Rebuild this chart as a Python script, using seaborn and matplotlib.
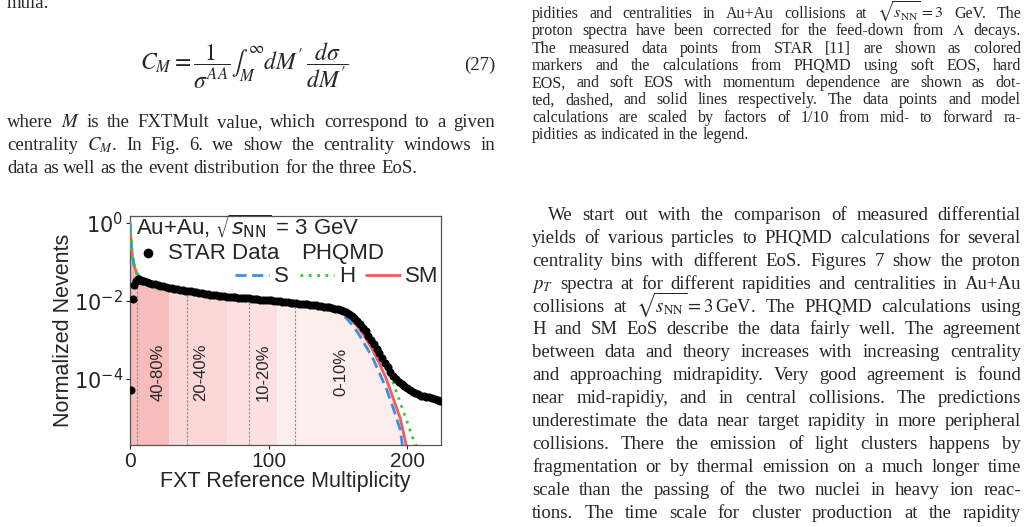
import numpy as np
import matplotlib
matplotlib.use("Agg")
import matplotlib.pyplot as plt
import seaborn as sns
import pandas as pd

sns.set_theme(style="ticks")
plt.rcParams['font.family'] = ['Liberation Sans', 'DejaVu Sans']
plt.rcParams['mathtext.fontset'] = 'dejavusans'

# ---------------- data ----------------
star_x = [1, 2, 3, 4, 5, 6, 7, 8, 9, 10] + list(range(12, 225, 2))
star_log = [-4.3, -1.95, -1.6, -1.5, -1.46, -1.45, -1.46, -1.47, -1.48, -1.5,
            -1.52, -1.54, -1.56, -1.58, -1.60, -1.62, -1.63, -1.65, -1.66, -1.68, -1.69, -1.70, -1.72, -1.73, -1.74,
            -1.75, -1.76, -1.77, -1.78, -1.80, -1.81, -1.82, -1.83, -1.84, -1.85, -1.86, -1.87, -1.88, -1.88, -1.89, -1.90, -1.91, -1.91, -1.92, -1.92,
            -1.93, -1.94, -1.94, -1.95, -1.95, -1.96, -1.97, -1.97, -1.98, -1.98, -1.99, -2.00, -2.01, -2.01, -2.02, -2.03, -2.04, -2.05, -2.05, -2.06,
            -2.07, -2.08, -2.09, -2.09, -2.10, -2.11, -2.12, -2.13, -2.14, -2.15, -2.16, -2.17, -2.19, -2.20, -2.22, -2.24, -2.26, -2.29, -2.33, -2.38,
            -2.44, -2.51, -2.60, -2.69, -2.78, -2.89, -3.00, -3.11, -3.23, -3.35, -3.47, -3.59, -3.71, -3.82, -3.92, -4.00, -4.07, -4.13, -4.19, -4.24,
            -4.29, -4.33, -4.37, -4.40, -4.43, -4.45, -4.46, -4.47, -4.49, -4.51, -4.54, -4.58]

sm_x = [0, 1, 2, 3, 5, 8, 10, 20, 40, 60, 80, 100, 120, 140, 150, 155, 160, 165, 170, 175, 180, 185, 190, 195, 200]
sm_log = [0.0, -0.6, -0.9, -1.1, -1.3, -1.42, -1.48, -1.59, -1.73, -1.84, -1.91, -1.97, -2.05, -2.14, -2.22, -2.32, -2.48, -2.70, -2.95, -3.25, -3.60, -4.00, -4.50, -5.00, -5.80]
s_x = [0, 1, 2, 3, 5, 8, 10, 20, 40, 60, 80, 100, 120, 140, 145, 150, 155, 160, 165, 170, 175, 180, 185, 190, 195, 197]
s_log = [0.0, -0.6, -0.9, -1.1, -1.3, -1.42, -1.48, -1.59, -1.73, -1.84, -1.91, -1.97, -2.05, -2.14, -2.19, -2.28, -2.40, -2.60, -2.85, -3.15, -3.45, -3.85, -4.25, -4.75, -5.30, -5.80]
h_x = [0, 1, 2, 3, 5, 8, 10, 20, 40, 60, 80, 100, 120, 140, 150, 160, 170, 180, 185, 190, 195, 200, 205, 208]
h_log = [0.0, -0.6, -0.9, -1.1, -1.3, -1.42, -1.48, -1.59, -1.73, -1.84, -1.91, -1.97, -2.05, -2.14, -2.22, -2.45, -2.85, -3.40, -3.75, -4.10, -4.60, -5.10, -5.60, -5.80]

band_edges = [0, 28, 70, 106, 200]
band_colors = ["#f8bcbc", "#fcd7d7", "#fde0e0", "#fdeeee"]
cut_lines = [5, 41, 86, 119]
cent_labels = ["40-80%", "20-40%", "10-20%", "0-10%"]
cent_label_x = [20, 51, 96, 152]

# ---------------- figure ----------------
W, H = 1028, 527
fig = plt.figure(figsize=(W / 100, H / 100), dpi=100)
ax = fig.add_axes([130 / W, 82 / H, 311 / W, 229 / H])
ymin, ymax = 2e-6, 1.5

sm_df = pd.DataFrame({"x": sm_x, "y": 10 ** np.array(sm_log)})
s_df = pd.DataFrame({"x": s_x, "y": 10 ** np.array(s_log)})
h_df = pd.DataFrame({"x": h_x, "y": 10 ** np.array(h_log)})
star_df = pd.DataFrame({"x": star_x, "y": 10 ** np.array(star_log)})

xs = np.array(sm_x, float); ys = np.array(sm_log)
for i in range(len(band_colors)):
    lo, hi = band_edges[i], band_edges[i + 1]
    m = (xs >= lo) & (xs <= hi)
    bx = np.concatenate([[lo], xs[m], [hi]])
    by = np.concatenate([[np.interp(lo, xs, ys)], ys[m], [np.interp(hi, xs, ys)]])
    ax.fill_between(bx, ymin, 10 ** by, color=band_colors[i], lw=0, zorder=1)

for cx in cut_lines:
    top = 10 ** np.interp(cx, star_x, star_log)
    ax.plot([cx, cx], [ymin, top], ls=(0, (2, 1.5)), color="#888888", lw=0.8, zorder=2)
for lx, lab in zip(cent_label_x, cent_labels):
    ax.text(lx, 1.5e-4, lab, rotation=90, ha="center", va="center", fontsize=12, zorder=5)

sns.lineplot(data=sm_df, x="x", y="y", ax=ax, color="#f25c5c", lw=2, zorder=3, label="SM")
sns.lineplot(data=s_df, x="x", y="y", ax=ax, color="#3d8fe0", lw=2, ls=(0, (4, 2)), zorder=4, label="S")
sns.lineplot(data=h_df, x="x", y="y", ax=ax, color="#33cc33", lw=2, ls=(0, (1, 2)), zorder=4, label="H")
sns.scatterplot(data=star_df, x="x", y="y", ax=ax, color="black", s=34, edgecolor="black", lw=0, zorder=6, label="STAR Data")

ax.set_yscale("log")
ax.set_xlim(0, 224.5)
ax.set_ylim(ymin, ymax)
ax.set_yticks([1, 1e-2, 1e-4])
ax.set_yticklabels([r"$10^{0}$", r"$10^{-2}$", r"$10^{-4}$"])
ax.minorticks_off()
ax.set_xticks([0, 100, 200])
ax.tick_params(labelsize=15, length=3, width=0.8, direction="out", pad=2)
ax.set_xlabel("FXT Reference Multiplicity", fontsize=15.5, labelpad=0)
ax.set_ylabel("Normalized Nevents", fontsize=15.5, labelpad=0)
for sp in ax.spines.values():
    sp.set_color("#555555"); sp.set_linewidth(0.9)

handles, labels = ax.get_legend_handles_labels()
hd = dict(zip(labels, handles))
leg1 = ax.legend([hd["STAR Data"]], ["STAR Data"], loc="center left", bbox_to_anchor=(0.0, 0.838),
                 frameon=False, fontsize=16, handletextpad=0.3, borderaxespad=0.2, markerscale=1.2,
                 handlelength=1.2, borderpad=0.0)
ax.add_artist(leg1)
ax.legend([hd["S"], hd["H"], hd["SM"]], ["S", "H", "SM"], loc="center right", bbox_to_anchor=(1.0, 0.734),
          ncol=3, frameon=False, fontsize=16, handlelength=1.5, handletextpad=0.25, columnspacing=0.5,
          borderaxespad=0.1, borderpad=0.0)
ax.text(0.02, 0.955, r"Au+Au, $\sqrt{s_{\mathrm{NN}}}$ = 3 GeV", transform=ax.transAxes,
        ha="left", va="center", fontsize=16, zorder=7)
ax.text(0.55, 0.838, "PHQMD", transform=ax.transAxes, ha="left", va="center", fontsize=16, zorder=7)

# ---------------- surrounding page text ----------------
serif = ['Liberation Serif', 'DejaVu Serif']
plt.rcParams['mathtext.fontset'] = 'stix'
fig.canvas.draw()
renderer = fig.canvas.get_renderer()

def justify(line, x0, x1, y, size, last=False):
    words = line.split(" ")
    arts = [fig.text(0, 1 - y / H, w, fontsize=size, family=serif, va="baseline") for w in words]
    widths = [a.get_window_extent(renderer).width for a in arts]
    sp = fig.text(0, 0, "a a", fontsize=size, family=serif)
    sp2 = fig.text(0, 0, "aa", fontsize=size, family=serif)
    space = sp.get_window_extent(renderer).width - sp2.get_window_extent(renderer).width
    sp.remove(); sp2.remove()
    gap = space if (last or len(words) == 1) else (x1 - x0 - sum(widths)) / (len(words) - 1)
    x = x0
    for a, w in zip(arts, widths):
        a.set_x(x / W)
        x += w + gap

body = 13.5
left_lines = [
    r"where $M$ is the FXTMult value, which correspond to a given",
    r"centrality $C_M$. In Fig. 6. we show the centrality windows in",
    r"data as well as the event distribution for the three EoS.",
]
for i, l in enumerate(left_lines):
    justify(l, 7, 495, 127 + i * 23, body, last=(i == len(left_lines) - 1))
fig.text(7 / W, 1 - 8 / H, "mula.", fontsize=body, family=serif, va="baseline")
fig.text(140 / W, 1 - 70 / H, r"$C_M=\dfrac{1}{\sigma^{AA}}\int_M^{\infty}dM'\,\dfrac{d\sigma}{dM'}$",
         fontsize=17, va="baseline")
fig.text(495 / W, 1 - 70 / H, "(27)", fontsize=body, family=serif, va="baseline", ha="right")

cap = 11.5
cap_lines = [
    r"pidities and centralities in Au+Au collisions at $\sqrt{s_\mathrm{NN}}=3$ GeV. The",
    r"proton spectra have been corrected for the feed-down from $\Lambda$ decays.",
    r"The measured data points from STAR [11] are shown as colored",
    r"markers and the calculations from PHQMD using soft EOS, hard",
    r"EOS, and soft EOS with momentum dependence are shown as dot-",
    r"ted, dashed, and solid lines respectively. The data points and model",
    r"calculations are scaled by factors of 1/10 from mid- to forward ra-",
    r"pidities as indicated in the legend.",
]
for i, l in enumerate(cap_lines):
    justify(l, 532, 1021, 18 + i * 17.3, cap, last=(i == len(cap_lines) - 1))

r_lines = [
    r"We start out with the comparison of measured differential",
    r"yields of various particles to PHQMD calculations for several",
    r"centrality bins with different EoS. Figures 7 show the proton",
    r"$p_T$ spectra at for different rapidities and centralities in Au+Au",
    r"collisions at $\sqrt{s_\mathrm{NN}}=3\,$GeV. The PHQMD calculations using",
    r"H and SM EoS describe the data fairly well. The agreement",
    r"between data and theory increases with increasing centrality",
    r"and approaching midrapidity. Very good agreement is found",
    r"near mid-rapidiy, and in central collisions. The predictions",
    r"underestimate the data near target rapidity in more peripheral",
    r"collisions. There the emission of light clusters happens by",
    r"fragmentation or by thermal emission on a much longer time",
    r"scale than the passing of the two nuclei in heavy ion reac-",
    r"tions. The time scale for cluster production at the rapidity",
]
for i, l in enumerate(r_lines):
    justify(l, 548 if i == 0 else 532, 1021, 220 + i * 22.9, body)

fig.savefig("out.png", dpi=100)
